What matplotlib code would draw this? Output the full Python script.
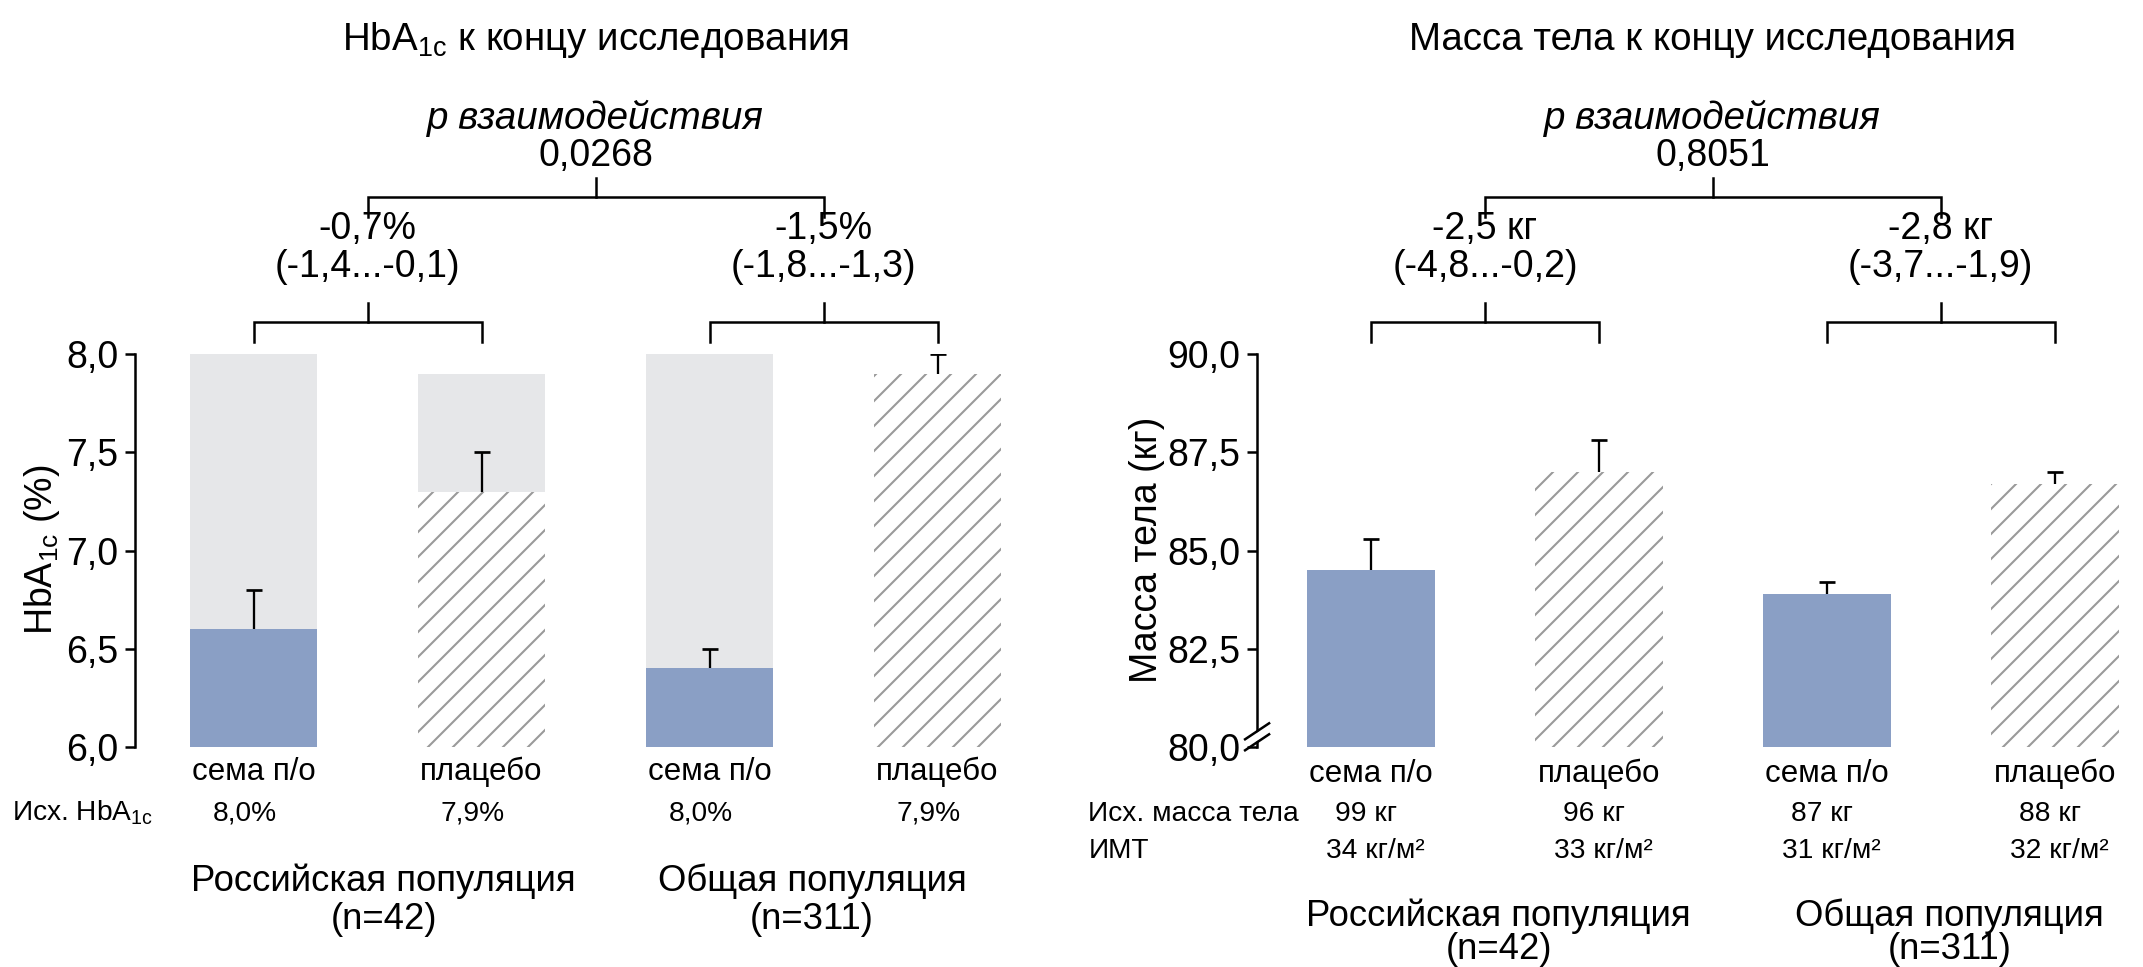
import matplotlib
matplotlib.use('Agg')
import matplotlib.pyplot as plt
from matplotlib.transforms import blended_transform_factory as btf

plt.rcParams['font.family'] = ['Liberation Sans', 'DejaVu Sans']
plt.rcParams['mathtext.default'] = 'regular'
plt.rcParams['hatch.linewidth'] = 1.0

# ---------------- data ----------------
groups = ['сема п/о', 'плацебо', 'сема п/о', 'плацебо']
pop_names = ['Российская популяция', 'Общая популяция']
pop_n = ['(n=42)', '(n=311)']

hba_base = [8.0, 7.9, 8.0, 7.9]
hba_end = [6.6, 7.3, 6.4, 7.9]
hba_err = [0.2, 0.2, 0.1, 0.1]
hba_diff = ['-0,7%', '-1,5%']
hba_ci = ['(-1,4...-0,1)', '(-1,8...-1,3)']
hba_p = '0,0268'
hba_base_lbl = ['8,0%', '7,9%', '8,0%', '7,9%']
hba_ticks = [6.0, 6.5, 7.0, 7.5, 8.0]
hba_ticklabels = ['6,0', '6,5', '7,0', '7,5', '8,0']

wt_end = [84.5, 87.0, 83.9, 86.7]
wt_err = [0.8, 0.8, 0.3, 0.3]
wt_diff = ['-2,5 кг', '-2,8 кг']
wt_ci = ['(-4,8...-0,2)', '(-3,7...-1,9)']
wt_p = '0,8051'
wt_base_lbl = ['99 кг', '96 кг', '87 кг', '88 кг']
bmi_lbl = ['34 кг/м²', '33 кг/м²', '31 кг/м²', '32 кг/м²']
wt_ticks = [80.0, 82.5, 85.0, 87.5, 90.0]
wt_ticklabels = ['80,0', '82,5', '85,0', '87,5', '90,0']

# ---------------- style ----------------
BLUE = '#8a9fc5'
GREY = '#e6e7e9'
HATCH = '#9a9a9a'
W = 0.56
LW = 1.2
FS_TICK = 18
FS_ANN = 18
FS_TITLE = 18.5
FS_GROUP = 17.5
FS_SMALL = 15
FS_ROW = 13.5
FS_YLAB = 18

fig = plt.figure(figsize=(2143 / 150, 967 / 150), dpi=150)
axL = fig.add_axes([0.0630, 0.2275, 0.4064, 0.4064])
axR = fig.add_axes([0.5866, 0.2275, 0.4041, 0.4064])

x = list(range(len(groups)))


def style_axis(ax, ticks, labels, ylim, xlim):
    ax.set_xlim(*xlim)
    ax.set_ylim(*ylim)
    for s in ['top', 'right', 'bottom']:
        ax.spines[s].set_visible(False)
    ax.spines['left'].set_linewidth(LW)
    ax.set_xticks([])
    ax.set_yticks(ticks)
    ax.set_yticklabels(labels)
    ax.tick_params(axis='y', length=5, width=LW, labelsize=FS_TICK, pad=3)


def draw_bars(ax, end, err, base=None, bottom=0):
    if base is not None:
        ax.bar(x, [b - bottom for b in base], bottom=bottom, width=W,
               color=GREY, linewidth=0)
    for i in x:
        if i % 2 == 0:
            ax.bar(x[i], end[i] - bottom, bottom=bottom, width=W,
                   color=BLUE, linewidth=0)
        else:
            ax.bar(x[i], end[i] - bottom, bottom=bottom, width=W,
                   facecolor='white', edgecolor=HATCH, hatch='//',
                   linewidth=0)
    tops = [e + r for e, r in zip(end, err)]
    ax.vlines(x, end, tops, color='black', lw=1.1)
    ax.hlines(tops, [i - 0.035 for i in x], [i + 0.035 for i in x],
              color='black', lw=1.3)


def bracket(ax, x1, x2, y, drop=0.05, up=0.049):
    tr = btf(ax.transData, ax.transAxes)
    ax.plot([x1, x1, x2, x2], [y - drop, y, y, y - drop], transform=tr,
            clip_on=False, color='black', lw=LW, solid_joinstyle='miter')
    xm = (x1 + x2) / 2
    ax.plot([xm, xm], [y, y + up], transform=tr, clip_on=False,
            color='black', lw=LW)


def annotate_top(ax, diffs, cis, p, title, title_x):
    tr = btf(ax.transData, ax.transAxes)
    for k, c in enumerate([0.5, 2.5]):
        bracket(ax, c - 0.5, c + 0.5, 1.081)
        ax.text(c, 1.318, diffs[k], transform=tr, ha='center', va='center',
                fontsize=FS_ANN)
        ax.text(c, 1.221, cis[k], transform=tr, ha='center', va='center',
                fontsize=FS_ANN)
    bracket(ax, 0.5, 2.5, 1.399)
    ax.text(1.5, 1.504, p, transform=tr, ha='center', va='center',
            fontsize=FS_ANN)
    ax.text(1.5, 1.60, 'p взаимодействия', transform=tr, ha='center',
            va='center', fontsize=FS_TITLE, style='italic')
    ax.text(title_x, 1.80, title, transform=tr, ha='center', va='center',
            fontsize=FS_TITLE)


def group_labels(ax, xs, y1, y2):
    tr = btf(ax.transData, ax.transAxes)
    for k in range(2):
        ax.text(xs[k], y1, pop_names[k], transform=tr, ha='center',
                va='center', fontsize=FS_GROUP)
        ax.text(xs[k], y2, pop_n[k], transform=tr, ha='center',
                va='center', fontsize=FS_GROUP)


# ---------------- left panel ----------------
style_axis(axL, hba_ticks, hba_ticklabels, (6.0, 8.0), (-0.52, 3.3))
draw_bars(axL, hba_end, hba_err, base=hba_base, bottom=6.0)
annotate_top(axL, hba_diff, hba_ci, hba_p,
             'HbA$_{1c}$ к концу исследования', 1.5)
trL = btf(axL.transData, axL.transAxes)
for i in x:
    axL.text(i, -0.064, groups[i], transform=trL, ha='center', va='center',
             fontsize=FS_SMALL)
    axL.text(i - 0.04, -0.168, hba_base_lbl[i], transform=trL, ha='center',
             va='center', fontsize=FS_ROW)
axL.text(-1.06, -0.168, 'Исх. HbA$_{1c}$', transform=trL, ha='left',
         va='center', fontsize=FS_ROW)
group_labels(axL, [0.57, 2.45], -0.341, -0.440)
fig.text(42 / 2143, 1 - 550 / 967, 'HbA$_{1c}$ (%)', rotation=90,
         ha='center', va='center', fontsize=FS_YLAB)

# ---------------- right panel ----------------
style_axis(axR, wt_ticks, wt_ticklabels, (80.0, 90.0), (-0.5, 3.3))
draw_bars(axR, wt_end, wt_err, base=None, bottom=80.0)
annotate_top(axR, wt_diff, wt_ci, wt_p,
             'Масса тела к концу исследования', 1.5)
trR = btf(axR.transData, axR.transAxes)
for i in x:
    axR.text(i, -0.069, groups[i], transform=trR, ha='center', va='center',
             fontsize=FS_SMALL)
    axR.text(i - 0.02, -0.170, wt_base_lbl[i], transform=trR, ha='center',
             va='center', fontsize=FS_ROW)
    axR.text(i + 0.02, -0.265, bmi_lbl[i], transform=trR, ha='center',
             va='center', fontsize=FS_ROW)
axR.text(-1.24, -0.170, 'Исх. масса тела', transform=trR, ha='left',
         va='center', fontsize=FS_ROW)
axR.text(-1.24, -0.265, 'ИМТ', transform=trR, ha='left',
         va='center', fontsize=FS_ROW)
group_labels(axR, [0.56, 2.54], -0.430, -0.515)
fig.text(1147 / 2143, 1 - 550 / 967, 'Масса тела (кг)', rotation=90,
         ha='center', va='center', fontsize=FS_YLAB)

# axis break marks on the right y-axis
axw = 0.4041 * 2143
axh = 0.4064 * 967
dx = 12 / axw
dy = 8 / axh
axR.fill([-dx * 0.7, dx * 0.7, dx * 0.7, -dx * 0.7],
         [0.012 - dy * 0.7 + 0.006, 0.012 + dy * 0.7 + 0.006,
          0.040 + dy * 0.7 - 0.006, 0.040 - dy * 0.7 - 0.006],
         transform=axR.transAxes, color='white', clip_on=False, zorder=3)
for y0 in [0.012, 0.040]:
    axR.plot([-dx, dx], [y0 - dy, y0 + dy], transform=axR.transAxes,
             color='black', lw=LW, clip_on=False, zorder=4)

fig.savefig('out.png', dpi=150, facecolor='white')
